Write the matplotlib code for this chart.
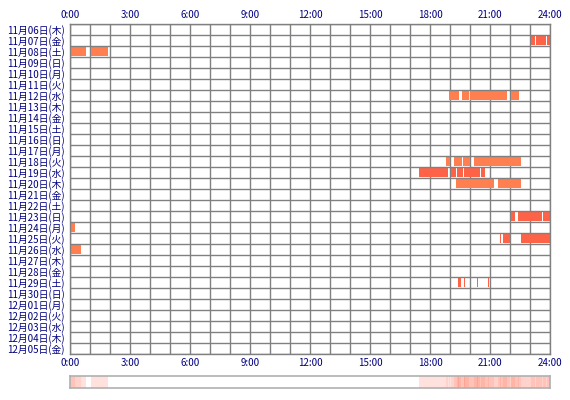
import numpy as np
import matplotlib
matplotlib.use("Agg")
import matplotlib.pyplot as plt
from matplotlib.colors import to_rgb

plt.rcParams['font.family'] = ['Noto Sans CJK JP', 'DejaVu Sans']

# ---- data ----
day_labels = ["11月06日(木)", "11月07日(金)", "11月08日(土)", "11月09日(日)", "11月10日(月)",
              "11月11日(火)", "11月12日(水)", "11月13日(木)", "11月14日(金)", "11月15日(土)",
              "11月16日(日)", "11月17日(月)", "11月18日(火)", "11月19日(水)", "11月20日(木)",
              "11月21日(金)", "11月22日(土)", "11月23日(日)", "11月24日(月)", "11月25日(火)",
              "11月26日(水)", "11月27日(木)", "11月28日(金)", "11月29日(土)", "11月30日(日)",
              "12月01日(月)", "12月02日(火)", "12月03日(水)", "12月04日(木)", "12月05日(金)"]
hour_ticks = [0, 3, 6, 9, 12, 15, 18, 21, 24]
hour_labels = ["0:00", "3:00", "6:00", "9:00", "12:00", "15:00", "18:00", "21:00", "24:00"]

# segments: day index, start hour, end hour, colour kind (0 = coral, 1 = tomato)
seg_day = [1, 1, 1,
           2, 2,
           6, 6, 6, 6,
           12, 12, 12, 12,
           13, 13, 13, 13, 13,
           14, 14,
           17, 17, 17,
           18,
           19, 19, 19,
           20,
           23, 23, 23, 23]
seg_start = [23.03, 23.30, 23.87,
             0.00, 1.03,
             18.95, 19.60, 20.00, 22.03,
             18.80, 19.20, 19.67, 20.20,
             17.45, 19.05, 19.37, 19.70, 20.57,
             19.30, 21.40,
             22.07, 22.40, 23.67,
             0.00,
             21.50, 21.63, 22.55,
             0.00,
             19.40, 19.70, 20.35, 20.90]
seg_end = [23.25, 23.80, 24.00,
           0.80, 1.92,
           19.45, 19.95, 21.85, 22.45,
           19.00, 19.58, 20.00, 22.55,
           18.88, 19.28, 19.63, 20.50, 20.75,
           21.20, 22.55,
           22.23, 23.60, 24.00,
           0.25,
           21.57, 22.00, 24.00,
           0.55,
           19.55, 19.75, 20.40, 20.95]
seg_kind = [1, 1, 1,
            0, 0,
            0, 0, 0, 0,
            0, 0, 0, 0,
            1, 1, 1, 1, 1,
            0, 0,
            1, 1, 1,
            0,
            1, 1, 1,
            0,
            1, 1, 1, 1]
kind_colors = ["#FF7F50", "#FF6347"]

# ---- figure ----
W, H = 570, 400
fig = plt.figure(figsize=(W / 100, H / 100), dpi=100)
navy = "#000080"
grid_c = "#808080"

ax = fig.add_axes([70 / W, 1 - 354 / H, 480 / W, 330 / H])
n = len(day_labels)
ax.set_xlim(0, 24)
ax.set_ylim(n, 0)

for h in range(25):
    ax.axvline(h, color=grid_c, lw=1.0, zorder=1)
for r in range(n + 1):
    ax.axhline(r, color=grid_c, lw=1.0, zorder=3)

for d, s, e, k in zip(seg_day, seg_start, seg_end, seg_kind):
    ax.barh(d + 0.5, e - s, left=s, height=0.86, color=kind_colors[k],
            edgecolor='none', zorder=2)

for sp in ax.spines.values():
    sp.set_color(grid_c)
    sp.set_linewidth(1.0)

ax.set_xticks(hour_ticks)
ax.set_xticklabels(hour_labels)
ax.tick_params(axis='x', length=0, labeltop=True, labelbottom=True,
               labelsize=7, labelcolor=navy, pad=3)
ax.set_yticks(np.arange(n) + 0.5)
ax.set_yticklabels(day_labels)
ax.tick_params(axis='y', length=0, labelsize=7, labelcolor=navy, pad=4)

# ---- summary strip ----
bins = 24 * 60
counts = np.zeros(bins)
for s, e in zip(seg_start, seg_end):
    i0 = int(round(s * 60))
    i1 = int(round(e * 60))
    counts[i0:i1] += 1
base = np.array(to_rgb("#FF6347"))
alpha = np.where(counts > 0, np.clip(0.08 + 0.1 * counts, 0, 1), 0)
img = 1 - alpha[:, None] * (1 - base[None, :])
img = img[None, :, :]

ax2 = fig.add_axes([70 / W, 1 - 388 / H, 480 / W, 12 / H])
ax2.imshow(img, aspect='auto', extent=[0, 24, 0, 1], interpolation='nearest')
ax2.set_xlim(0, 24)
ax2.set_xticks([])
ax2.set_yticks([])
for sp in ax2.spines.values():
    sp.set_color("#B0B0B0")
    sp.set_linewidth(1.2)

fig.savefig("out.png", dpi=100)
